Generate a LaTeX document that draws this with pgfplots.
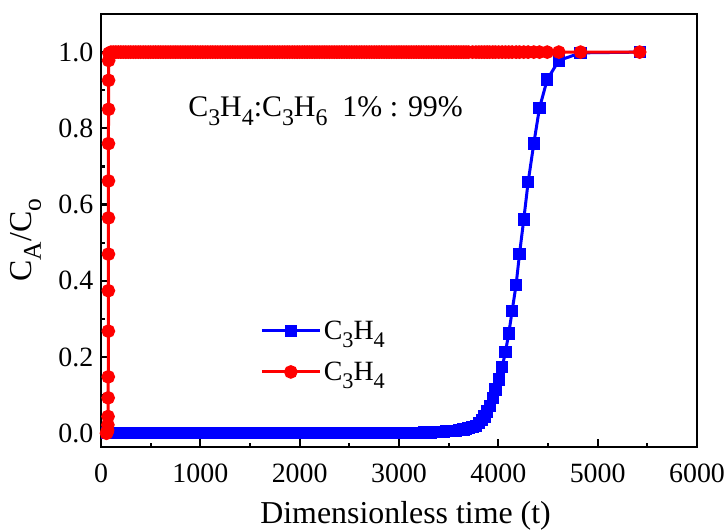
\documentclass[border=0pt]{standalone}
\usepackage{fontspec}
\setmainfont{Liberation Serif}
\usepackage{pgfplots}
\pgfplotsset{compat=1.18}

\definecolor{cblue}{RGB}{0,0,255}
\definecolor{cred}{RGB}{255,0,0}

% chemical-formula subscript: slightly reduced and lowered
\makeatletter
\newcommand\sub[1]{\raisebox{-0.28em}{\fontsize{\fpeval{0.8*\f@size}}{0}\selectfont #1}}
\makeatother

\begin{document}
\begin{tikzpicture}
\path[use as bounding box] (-101bp,-85bp) rectangle (626bp,447bp);
\begin{axis}[
  at={(0,0)}, anchor=south west,
  scale only axis,
  width=596bp, height=433bp,
  xmin=0, xmax=6000,
  ymin=-0.036, ymax=1.1,
  xtick={0,1000,...,6000},
  ytick={0,0.2,...,1.0},
  minor x tick num=1,
  minor y tick num=1,
  tick pos=left,
  tick align=inside,
  major tick length=8bp,
  minor tick length=4.5bp,
  line width=2.8bp,
  axis line style={line width=2.8bp},
  every tick/.style={line width=2.2bp, black},
  /pgf/number format/assume math mode=true,
  /pgf/number format/set thousands separator={},
  yticklabel style={/pgf/number format/fixed, /pgf/number format/fixed zerofill,
    /pgf/number format/precision=1, xshift=-3bp},
  xticklabel style={yshift=-12bp},
  ticklabel style={font=\fontsize{28}{32}\selectfont},
  xlabel={Dimensionless time (t)},
  ylabel={C\sub{A}/C\sub{o}},
  label style={font=\fontsize{32}{36}\selectfont},
  xlabel style={at={(axis description cs:0.511,0)}, anchor=center, yshift=-69bp},
  ylabel style={at={(axis description cs:0,0.478)}, anchor=center, yshift=75bp},
  legend cell align=left,
  legend style={draw=none, fill=none, inner sep=0pt,
    at={(axis description cs:0.265,0.30)}, anchor=north west,
    row sep=16bp, font=\fontsize{28}{32}\selectfont,
    nodes={inner sep=2.5bp}},
  legend image code/.code={%
    \draw[mark repeat=2,mark phase=2] plot coordinates {(0bp,0bp) (29bp,0bp) (58bp,0bp)};},
  clip=false,
]
% C3H4 outlet concentration (blue squares)
\addplot[cblue, line width=3bp, mark=square*, mark size=4.6bp,
  mark options={solid, fill=cblue, draw=cblue}] coordinates {
  (60,0) (100,0) (125,0) (150,0) (175,0) (200,0) (225,0) (250,0) (275,0) (300,0)
  (325,0) (350,0) (375,0) (400,0) (425,0) (450,0) (475,0) (500,0) (525,0) (550,0)
  (575,0) (600,0) (625,0) (650,0) (675,0) (700,0) (725,0) (750,0) (775,0) (800,0)
  (825,0) (850,0) (875,0) (900,0) (925,0) (950,0) (975,0) (1000,0) (1025,0) (1050,0)
  (1075,0) (1100,0) (1125,0) (1150,0) (1175,0) (1200,0) (1225,0) (1250,0) (1275,0) (1300,0)
  (1325,0) (1350,0) (1375,0) (1400,0) (1425,0) (1450,0) (1475,0) (1500,0) (1525,0) (1550,0)
  (1575,0) (1600,0) (1625,0) (1650,0) (1675,0) (1700,0) (1725,0) (1750,0) (1775,0) (1800,0)
  (1825,0) (1850,0) (1875,0) (1900,0) (1925,0) (1950,0) (1975,0) (2000,0) (2025,0) (2050,0)
  (2075,0) (2100,0) (2125,0) (2150,0) (2175,0) (2200,0) (2225,0) (2250,0) (2275,0) (2300,0)
  (2325,0) (2350,0) (2375,0) (2400,0) (2425,0) (2450,0) (2475,0) (2500,0) (2525,0) (2550,0)
  (2575,0) (2600,0) (2625,0) (2650,0) (2675,0) (2700,0) (2725,0) (2750,0) (2775,0) (2800,0)
  (2825,0) (2850,0) (2875,0) (2900,0) (2925,0) (2950,0) (2975,0) (3000,0) (3025,0) (3050,0)
  (3075,0) (3100,0) (3125,0.001) (3150,0.001) (3175,0.001) (3200,0.001) (3225,0.001) (3250,0.002)
  (3275,0.002) (3300,0.002) (3325,0.002) (3350,0.003) (3375,0.003) (3400,0.003) (3425,0.004)
  (3450,0.004) (3475,0.005) (3500,0.005) (3525,0.006) (3550,0.006) (3575,0.007) (3600,0.008)
  (3625,0.009) (3650,0.010) (3675,0.011) (3700,0.013)
  (3740,0.016) (3775,0.020) (3805,0.026) (3833,0.034) (3860,0.044) (3887,0.057)
  (3913,0.072) (3944,0.093) (3971,0.115) (4004,0.141) (4038,0.173) (4072,0.214)
  (4105,0.262) (4139,0.321) (4179,0.390) (4213,0.470) (4256,0.561) (4300,0.659)
  (4357,0.760) (4414,0.853) (4492,0.928) (4609,0.978) (4828,0.998) (5423,1.0)
};
\addlegendentry{C\sub{3}H\sub{4}}
% second component (red circles)
\addplot[cred, line width=3bp, mark=*, mark size=5.3bp,
  mark options={solid, fill=cred, draw=cred}] coordinates {
  (55,0) (62,0.003) (66,0.008) (69,0.022) (71,0.044) (72,0.093) (73,0.148)
  (74,0.268) (74,0.374) (75,0.470) (75,0.565) (75,0.662) (75,0.760) (76,0.850)
  (76,0.926) (77,0.978) (80,0.997) (100,1) (125,1) (150,1) (175,1) (200,1) (225,1)
  (250,1) (275,1) (300,1) (325,1) (350,1) (375,1) (400,1) (425,1) (450,1) (475,1)
  (500,1) (525,1) (550,1) (575,1) (600,1) (625,1) (650,1) (675,1) (700,1) (725,1)
  (750,1) (775,1) (800,1) (825,1) (850,1) (875,1) (900,1) (925,1) (950,1) (975,1)
  (1000,1) (1025,1) (1050,1) (1075,1) (1100,1) (1125,1) (1150,1) (1175,1) (1200,1)
  (1225,1) (1250,1) (1275,1) (1300,1) (1325,1) (1350,1) (1375,1) (1400,1) (1425,1)
  (1450,1) (1475,1) (1500,1) (1525,1) (1550,1) (1575,1) (1600,1) (1625,1) (1650,1)
  (1675,1) (1700,1) (1725,1) (1750,1) (1775,1) (1800,1) (1825,1) (1850,1) (1875,1)
  (1900,1) (1925,1) (1950,1) (1975,1) (2000,1) (2025,1) (2050,1) (2075,1) (2100,1)
  (2125,1) (2150,1) (2175,1) (2200,1) (2225,1) (2250,1) (2275,1) (2300,1) (2325,1)
  (2350,1) (2375,1) (2400,1) (2425,1) (2450,1) (2475,1) (2500,1) (2525,1) (2550,1)
  (2575,1) (2600,1) (2625,1) (2650,1) (2675,1) (2700,1) (2725,1) (2750,1) (2775,1)
  (2800,1) (2825,1) (2850,1) (2875,1) (2900,1) (2925,1) (2950,1) (2975,1) (3000,1)
  (3025,1) (3050,1) (3075,1) (3100,1) (3125,1) (3150,1) (3175,1) (3200,1) (3225,1)
  (3250,1) (3275,1) (3300,1) (3325,1) (3350,1) (3375,1) (3400,1) (3425,1) (3450,1)
  (3475,1) (3500,1) (3525,1) (3550,1) (3575,1) (3600,1) (3625,1) (3650,1) (3675,1)
  (3700,1) (3740,1) (3775,1) (3805,1) (3833,1) (3860,1) (3887,1)
  (3913,1) (3944,1) (3971,1) (4004,1) (4038,1) (4072,1) (4105,1) (4139,1) (4179,1)
  (4213,1) (4256,1) (4300,1) (4357,1) (4414,1) (4492,1) (4609,1) (4828,1) (5423,1)
};
\addlegendentry{C\sub{3}H\sub{4}}
\node[font=\fontsize{30}{34}\selectfont, anchor=center]
  at (axis cs:2261,0.845) {C\sub{3}H\sub{4}:C\sub{3}H\sub{6}\ \ 1\% : 99\%};
\end{axis}
\end{tikzpicture}
\end{document}
